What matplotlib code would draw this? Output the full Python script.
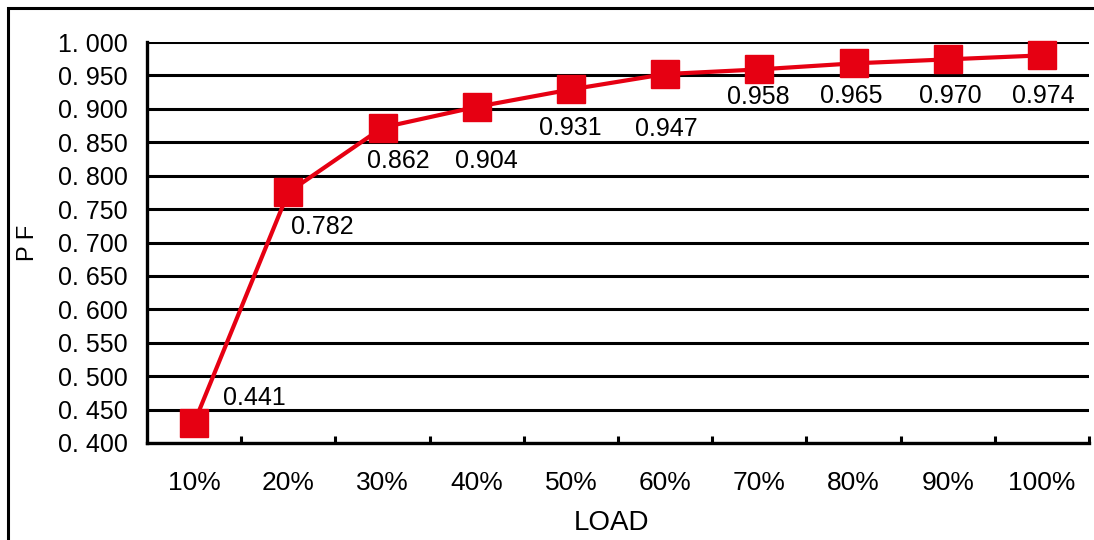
import matplotlib
matplotlib.use("Agg")
import matplotlib.pyplot as plt
from matplotlib.patches import Rectangle
import numpy as np

plt.rcParams['font.family'] = ['Liberation Sans', 'DejaVu Sans']

# --- Data ---
loads = ["10%", "20%", "30%", "40%", "50%", "60%", "70%", "80%", "90%", "100%"]
pf = [0.430, 0.775, 0.872, 0.903, 0.929, 0.952, 0.959, 0.968, 0.974, 0.980]
pf_labels = ["0.441", "0.782", "0.862", "0.904", "0.931",
             "0.947", "0.958", "0.965", "0.970", "0.974"]
y_ticks = [0.40, 0.45, 0.50, 0.55, 0.60, 0.65, 0.70, 0.75, 0.80, 0.85, 0.90, 0.95, 1.00]

# label offsets from each point, in pixels (x right, y up)
label_offsets = [(60, 25), (34, -35), (16, -33), (10, -54), (-1, -39),
                 (1, -55), (-1, -28), (-2, -33), (3, -37), (1, -41)]

RED = "#E60012"

# --- Figure ---
fig = plt.figure(figsize=(10.94, 5.40), dpi=100)
ax = fig.add_axes([147 / 1094, 1 - 443 / 540, 942 / 1094, 401 / 540])

# outer chart frame
fig.patches.append(Rectangle((8 / 1094, -0.1), 1.2, 1.1 - 8 / 540,
                             transform=fig.transFigure, fill=False,
                             edgecolor="black", linewidth=2.2))

x = np.arange(len(loads))
for yv in y_ticks:
    ax.axhline(yv, color="black", linewidth=2.2, zorder=1)

ax.plot(x, pf, color=RED, linewidth=3, marker="s", markersize=19.5,
        markerfacecolor=RED, markeredgecolor=RED, zorder=3, clip_on=False)

for xi, yi, txt, (dx, dy) in zip(x, pf, pf_labels, label_offsets):
    ax.annotate(txt, (xi, yi), xytext=(dx, dy), textcoords="offset pixels",
                ha="center", va="center", fontsize=18, color="black", zorder=4)

ax.set_xlim(-0.5, len(loads) - 0.5)
ax.set_ylim(0.40, 1.00)

ax.set_yticks(y_ticks)
ax.set_yticklabels([f"{v:.3f}".replace(".", ". ") for v in y_ticks], fontsize=18)
ax.tick_params(axis="y", length=0, pad=14)

ax.set_xticks(x)
ax.set_xticklabels(loads, fontsize=19)
ax.tick_params(axis="x", which="major", length=0, pad=20)
ax.set_xticks(np.arange(0.5, len(loads) - 0.5 + 0.01, 1.0), minor=True)
ax.tick_params(axis="x", which="minor", direction="in", length=5, width=2.2)

for s in ["top", "right"]:
    ax.spines[s].set_visible(False)
for s in ["left", "bottom"]:
    ax.spines[s].set_linewidth(2.4)

ax.set_ylabel("P F", fontsize=17, va="center")
ax.set_xlabel("LOAD", fontsize=20, va="center")
ax.yaxis.set_label_coords(-119 / 942, 0.5)
ax.xaxis.set_label_coords(465 / 942, -(523 - 443) / 401)

fig.savefig("out.png", dpi=100)
